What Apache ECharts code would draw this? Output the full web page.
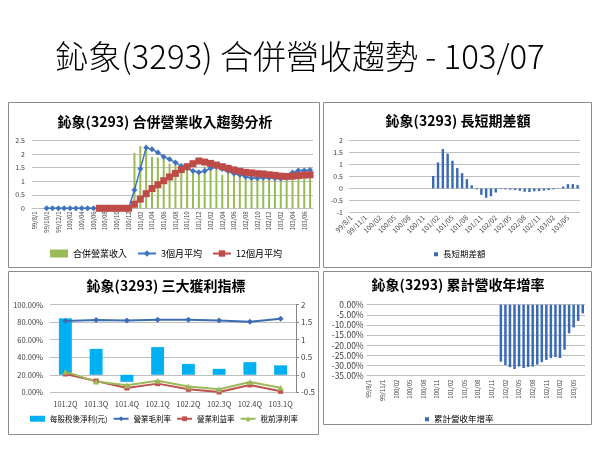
<!DOCTYPE html>
<html><head><meta charset="utf-8">
<script src="https://cdn.jsdelivr.net/npm/echarts@6/dist/echarts.min.js"></script>
<style>html,body{margin:0;padding:0;background:#fff}#c{width:600px;height:450px}</style>
</head><body><div id="c"></div>
<script>
// ---------- data ----------
const months = ["99/8/1","99/9/1","99/10/1","99/11/1","99/12/1","100/01","100/02","100/03","100/04","100/05","100/06","100/07","100/08","100/09","100/10","100/11","100/12","101/01","101/02","101/03","101/04","101/05","101/06","101/07","101/08","101/09","101/10","101/11","101/12","102/01","102/02","102/03","102/04","102/05","102/06","102/07","102/08","102/09","102/10","102/11","102/12","103/01","103/02","103/03","103/04","103/05","103/06","103/07"];
const revenue = [0,0,0,0,0,0,0,0,0,0,0,0,0,0,0,0,0,
  2.05,2.3,2.35,1.9,1.88,1.95,1.65,1.62,1.42,1.42,1.32,1.25,1.55,1.65,1.48,1.23,1.45,1.25,1.25,1.1,1.08,1.15,1.15,1.1,1.1,1.08,1.28,1.4,1.45,1.4,1.42];
const avg3 = [null,null,0,0,0,0,0,0,0,0,0,0,0,0,0,0,0,
  0.68,1.45,2.24,2.18,2.06,1.91,1.81,1.69,1.56,1.48,1.38,1.33,1.38,1.48,1.54,1.45,1.38,1.29,1.24,1.17,1.12,1.11,1.13,1.13,1.11,1.10,1.15,1.32,1.40,1.40,1.42];
const avg12 = [null,null,null,null,null,null,null,null,null,null,null,0,0,0,0,0,0,
  0.15,0.34,0.54,0.73,0.87,1.02,1.16,1.29,1.43,1.54,1.65,1.75,1.71,1.66,1.60,1.54,1.48,1.42,1.37,1.33,1.31,1.28,1.27,1.24,1.22,1.19,1.18,1.19,1.21,1.23,1.24];
const diff = [0,0,0,0,0,0,0,0,0,0,0,0,0,0,0,0,0,
  0.52,1.09,1.65,1.46,1.16,0.86,0.64,0.39,0.13,-0.04,-0.27,-0.39,-0.33,-0.17,-0.03,-0.04,-0.05,-0.07,-0.1,-0.14,-0.15,-0.12,-0.11,-0.09,-0.07,-0.04,0.01,0.08,0.18,0.18,0.14];
const yoy = [null,null,null,null,null,null,null,null,null,null,null,null,null,null,null,null,null,null,null,null,null,null,null,null,null,null,null,null,null,
  -28.1,-29.8,-30.8,-31.7,-30.5,-31.2,-30.7,-30.5,-29.5,-28.3,-27.2,-26.3,-25.8,-26.3,-22.2,-14.1,-11.2,-8.0,-4.3];
const quarters = ["101.2Q","101.3Q","101.4Q","102.1Q","102.2Q","102.3Q","102.4Q","103.1Q"];
const eps = [1.61,0.74,-0.2,0.79,0.31,0.17,0.36,0.27];
const grossMargin = [81.4,82.5,82.1,82.9,82.9,82.1,80.6,84.0];
const opMargin = [20.9,12.9,4.9,9.9,3.4,0.4,8.4,1.1];
const pretaxMargin = [23.6,12.2,8.0,13.3,6.5,3.4,11.8,5.3];

// ---------- style ----------
const FF = '"Noto Sans CJK TC","Noto Sans",sans-serif';
const GRID = '#BFBFBF';
const TXT = '#404040';
const split = {show:true, lineStyle:{color:GRID, width:1}};
function lbl(size, extra){ return Object.assign({fontFamily:FF, fontSize:size, color:TXT}, extra||{}); }
function subTitle(text, x, y){
  return {text:text, left:x, top:y, textAlign:'center', textVerticalAlign:'middle', padding:0,
    textStyle:{fontFamily:FF, fontSize:14, fontWeight:'bold', color:'#000'}};
}
const BLUE_BAR = '#3A6AB4';

const chart = echarts.init(document.getElementById('c'));
chart.setOption({
  animation:false,
  backgroundColor:'#fff',
  title:[
    {text:'鈊象(3293) 合併營收趨勢 - 103/07', left:300, top:56, textAlign:'center', textVerticalAlign:'middle', padding:0,
      textStyle:{fontFamily:FF, fontSize:33, fontWeight:300, color:'#000'}},
    subTitle('鈊象(3293) 合併營業收入趨勢分析', 165, 122),
    subTitle('鈊象(3293) 長短期差額', 458, 121),
    subTitle('鈊象(3293) 三大獲利指標', 166, 286),
    subTitle('鈊象(3293) 累計營收年增率', 458, 285)
  ],
  legend:[
    {left:50, top:249, itemWidth:18, itemHeight:8, itemGap:10, padding:0, textStyle:lbl(9,{color:'#000'}),
      data:[{name:'合併營業收入', icon:'rect'}, '3個月平均', '12個月平均']},
    {left:434, top:250, itemWidth:4, itemHeight:4, padding:0, textStyle:lbl(8.5,{color:'#000'}),
      data:[{name:'長短期差額', icon:'rect'}]},
    {left:30, top:415, itemWidth:15, itemHeight:6, itemGap:5, padding:0, textStyle:lbl(7.5,{color:'#000'}),
      data:[{name:'每股稅後淨利(元)', icon:'rect'}, '營業毛利率', '營業利益率', '稅前淨利率']},
    {left:425, top:415, itemWidth:4, itemHeight:4, padding:0, textStyle:lbl(8.5,{color:'#000'}),
      data:[{name:'累計營收年增率', icon:'rect'}]}
  ],
  grid:[
    {left:32, top:140.7, right:287, bottom:241.7, outerBoundsMode:'none'},
    {left:349, top:140.7, right:20, bottom:237.7, outerBoundsMode:'none'},
    {left:50, top:304.7, right:304, bottom:57.7, outerBoundsMode:'none'},
    {left:366.7, top:304.7, right:15, bottom:74.3, outerBoundsMode:'none'}
  ],
  xAxis:[
    {type:'category', gridIndex:0, data:months, axisTick:{show:false},
      axisLine:{show:true, lineStyle:{color:GRID}},
      axisLabel:lbl(6,{rotate:90, interval:1, margin:3})},
    {type:'category', gridIndex:1, data:months, axisTick:{show:false},
      axisLine:{show:false, onZero:false},
      axisLabel:lbl(7,{rotate:45, interval:2, margin:4})},
    {type:'category', gridIndex:2, data:quarters, axisTick:{show:false},
      axisLine:{show:false},
      axisLabel:lbl(7.5,{margin:8, interval:0, hideOverlap:false})},
    {type:'category', gridIndex:3, data:months, axisTick:{show:false},
      axisLine:{show:false, onZero:false},
      axisLabel:lbl(6,{rotate:90, interval:2, margin:4})}
  ],
  yAxis:[
    {type:'value', gridIndex:0, min:0, max:2.5, interval:0.5, splitLine:split,
      axisLine:{show:false}, axisTick:{show:false}, axisLabel:lbl(7,{margin:7})},
    {type:'value', gridIndex:1, min:-1, max:2, interval:0.5, splitLine:split,
      axisLine:{show:false}, axisTick:{show:false}, axisLabel:lbl(7,{margin:6})},
    {type:'value', gridIndex:2, min:0, max:100, interval:20, splitLine:split,
      axisLine:{show:false}, axisTick:{show:false},
      axisLabel:lbl(7.5,{margin:7, formatter:function(v){return v.toFixed(2)+'%';}})},
    {type:'value', gridIndex:2, position:'right', min:-0.5, max:2, interval:0.5, splitLine:{show:false},
      axisLine:{show:true, lineStyle:{color:'#868686'}}, axisTick:{show:true, length:3, lineStyle:{color:'#868686'}},
      axisLabel:lbl(8,{margin:5})},
    {type:'value', gridIndex:3, min:-35, max:0, interval:5, splitLine:split,
      axisLine:{show:false}, axisTick:{show:false},
      axisLabel:lbl(8.5,{margin:3, formatter:function(v){return v.toFixed(2)+'%';}})}
  ],
  series:[
    {name:'合併營業收入', type:'bar', xAxisIndex:0, yAxisIndex:0, data:revenue, barWidth:'35%',
      itemStyle:{color:'#9BBB59'}},
    {name:'3個月平均', type:'line', xAxisIndex:0, yAxisIndex:0, data:avg3, symbol:'diamond', symbolSize:6, showAllSymbol:true,
      itemStyle:{color:'#3F74BE'}, lineStyle:{color:'#3F74BE', width:1.5}},
    {name:'12個月平均', type:'line', xAxisIndex:0, yAxisIndex:0, data:avg12, symbol:'rect', symbolSize:7, showAllSymbol:true,
      itemStyle:{color:'#BE4B48'}, lineStyle:{color:'#BE4B48', width:2.5}},
    {name:'長短期差額', type:'bar', xAxisIndex:1, yAxisIndex:1, data:diff, barWidth:'50%',
      itemStyle:{color:BLUE_BAR}},
    {name:'每股稅後淨利(元)', type:'bar', xAxisIndex:2, yAxisIndex:3, data:eps, barWidth:'42%',
      itemStyle:{color:'#00B0F0'}},
    {name:'營業毛利率', type:'line', xAxisIndex:2, yAxisIndex:2, data:grossMargin, symbol:'diamond', symbolSize:6,
      itemStyle:{color:'#3C6DB4'}, lineStyle:{color:'#3C6DB4', width:2}},
    {name:'營業利益率', type:'line', xAxisIndex:2, yAxisIndex:2, data:opMargin, symbol:'rect', symbolSize:5,
      itemStyle:{color:'#C0504D'}, lineStyle:{color:'#C0504D', width:2}},
    {name:'稅前淨利率', type:'line', xAxisIndex:2, yAxisIndex:2, data:pretaxMargin, symbol:'triangle', symbolSize:6,
      itemStyle:{color:'#9BBB59'}, lineStyle:{color:'#9BBB59', width:2}},
    {name:'累計營收年增率', type:'bar', xAxisIndex:3, yAxisIndex:4, data:yoy, barWidth:'55%',
      itemStyle:{color:BLUE_BAR}}
  ],
  graphic:[
    {type:'rect', shape:{x:8.5, y:102.5, width:311, height:165}, style:{fill:null, stroke:'#8C8C8C', lineWidth:1}, silent:true},
    {type:'rect', shape:{x:323.5, y:102.5, width:268, height:165}, style:{fill:null, stroke:'#8C8C8C', lineWidth:1}, silent:true},
    {type:'rect', shape:{x:8.5, y:271.5, width:310, height:163}, style:{fill:null, stroke:'#8C8C8C', lineWidth:1}, silent:true},
    {type:'rect', shape:{x:323.5, y:271.5, width:268, height:153}, style:{fill:null, stroke:'#8C8C8C', lineWidth:1}, silent:true}
  ]
});
</script>
</body></html>
